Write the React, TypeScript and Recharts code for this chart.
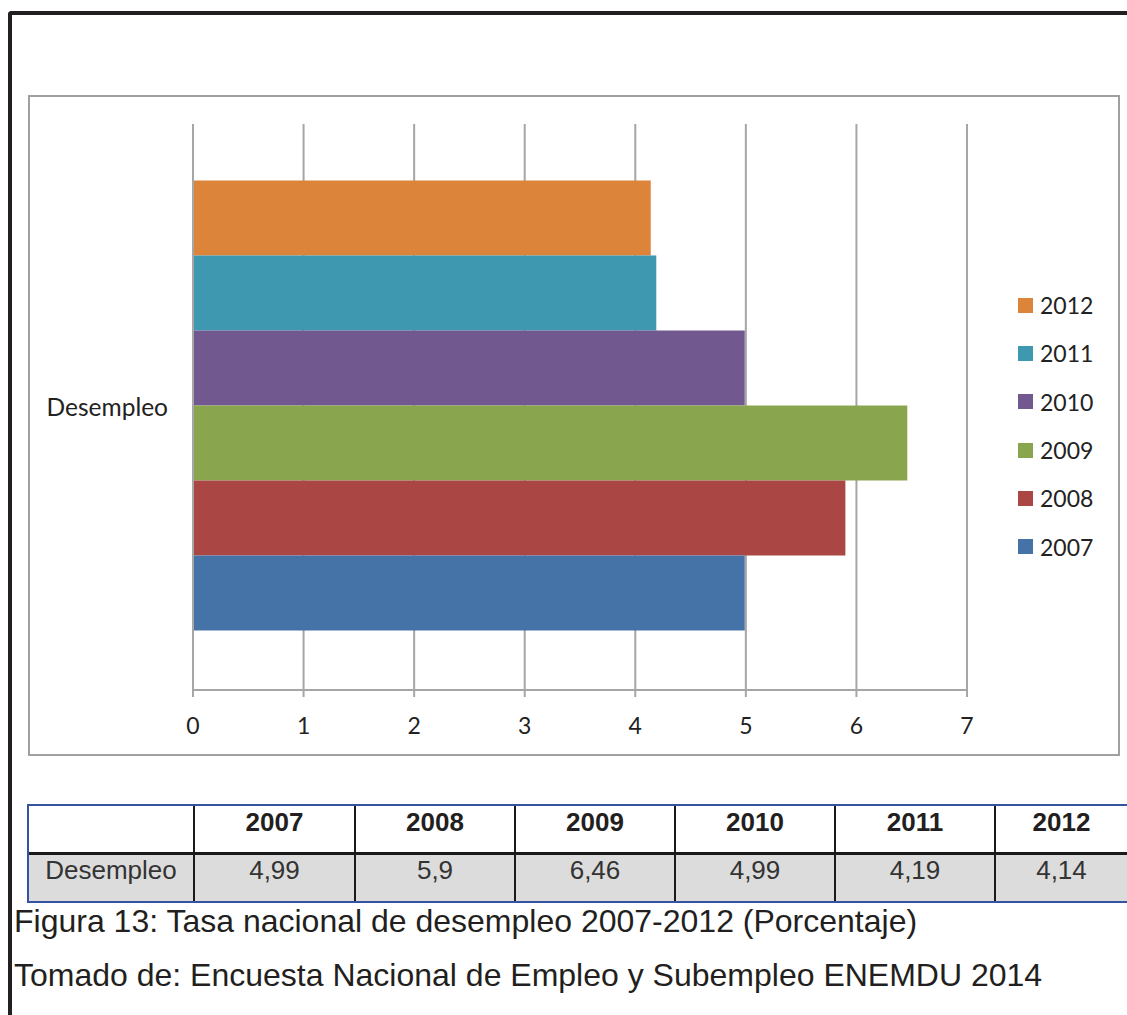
import { BarChart, Bar, XAxis, YAxis, CartesianGrid } from 'recharts'

const categories = ['Desempleo']
const years = ['2012', '2011', '2010', '2009', '2008', '2007']
const rates = [4.14, 4.19, 4.99, 6.46, 5.9, 4.99]
const colors = ['#DD843B', '#3E98B0', '#71588F', '#89A54E', '#AA4643', '#4572A7']
const xTicks = [0, 1, 2, 3, 4, 5, 6, 7]
const tableYears = ['2007', '2008', '2009', '2010', '2011', '2012']
const tableValues = ['4,99', '5,9', '6,46', '4,99', '4,19', '4,14']
const caption = 'Figura 13: Tasa nacional de desempleo 2007-2012 (Porcentaje)'
const source = 'Tomado de: Encuesta Nacional de Empleo y Subempleo ENEMDU 2014'

const data = categories.map((name) => {
  const row: { [key: string]: string | number } = { name }
  years.forEach((y, i) => {
    row[y] = rates[i]
  })
  return row
})

const gridGray = '#a6a6a6'
const chartFont = 'Lato, "Open Sans", sans-serif'
const tableFont = '"Liberation Sans", Arial, sans-serif'
const tableBlue = '#3553a0'
const colWidths = [164, 161, 160, 160, 160, 160, 133]

export default function App() {
  return (
    <div
      style={{
        position: 'absolute',
        left: 0,
        top: 0,
        width: 1127,
        height: 1015,
        overflow: 'hidden',
        background: '#fff',
      }}
    >
      {/* page frame */}
      <div
        style={{
          position: 'absolute',
          left: 8,
          top: 11,
          width: 1200,
          height: 1100,
          borderLeft: '4px solid #231f20',
          borderTop: '4px solid #231f20',
          borderTopLeftRadius: 4,
        }}
      />

      {/* chart box */}
      <div
        style={{
          position: 'absolute',
          left: 28,
          top: 95,
          width: 1092,
          height: 661,
          boxSizing: 'border-box',
          border: '2px solid #a0a0a0',
        }}
      >
        <BarChart
          width={1088}
          height={657}
          data={data}
          layout="vertical"
          barCategoryGap="10%"
          barGap={0}
          margin={{ top: 27, right: 151, left: 0, bottom: 24 }}
        >
          <CartesianGrid horizontal={false} stroke={gridGray} strokeWidth={2} />
          <XAxis
            type="number"
            domain={[0, 7]}
            ticks={xTicks}
            height={40}
            tickSize={7}
            tickMargin={21}
            axisLine={{ stroke: gridGray, strokeWidth: 2 }}
            tickLine={{ stroke: gridGray, strokeWidth: 2 }}
            tick={{ fill: '#222', fontSize: 23, fontFamily: chartFont }}
          />
          <YAxis
            type="category"
            dataKey="name"
            width={163}
            tickSize={8}
            tickMargin={17}
            tickLine={false}
            axisLine={{ stroke: gridGray, strokeWidth: 2 }}
            tick={{ fill: '#222', fontSize: 24.5, fontFamily: chartFont }}
          />
          {years.map((y, i) => (
            <Bar key={y} dataKey={y} fill={colors[i]} isAnimationActive={false} />
          ))}
        </BarChart>
      </div>

      {/* legend */}
      <div style={{ position: 'absolute', left: 1018, top: 281, fontFamily: chartFont, fontSize: 23, color: '#222' }}>
        {years.map((y, i) => (
          <div key={y} style={{ height: 48.3, display: 'flex', alignItems: 'center' }}>
            <span style={{ width: 15, height: 15, background: colors[i], display: 'inline-block', marginRight: 7 }} />
            <span>{y}</span>
          </div>
        ))}
      </div>

      {/* data table */}
      <div
        style={{
          position: 'absolute',
          left: 27,
          top: 804,
          width: 1140,
          borderTop: `2px solid ${tableBlue}`,
          borderBottom: `2px solid ${tableBlue}`,
          borderLeft: `2px solid ${tableBlue}`,
          fontFamily: tableFont,
          fontSize: 26,
          color: '#231f20',
        }}
      >
        <div style={{ display: 'flex', height: 46, borderBottom: '3px solid #1a1a1a' }}>
          {['', ...tableYears].map((y, i) => (
            <div
              key={i}
              style={{
                width: colWidths[i],
                boxSizing: 'border-box',
                borderLeft: i === 0 ? 'none' : '2px solid #1a1a1a',
                textAlign: 'center',
                lineHeight: '33px',
                fontWeight: 'bold',
              }}
            >
              {y}
            </div>
          ))}
        </div>
        <div style={{ display: 'flex', height: 46, background: '#dcdcdc' }}>
          {['Desempleo', ...tableValues].map((v, i) => (
            <div
              key={i}
              style={{
                width: colWidths[i],
                boxSizing: 'border-box',
                borderLeft: i === 0 ? 'none' : '2px solid #1a1a1a',
                textAlign: 'center',
                lineHeight: '31px',
                color: '#333',
              }}
            >
              {v}
            </div>
          ))}
        </div>
      </div>

      {/* caption */}
      <div style={{ position: 'absolute', left: 14, top: 902, fontFamily: tableFont, fontSize: 32, color: '#231f20', lineHeight: '38px', whiteSpace: 'nowrap' }}>
        {caption}
      </div>
      <div style={{ position: 'absolute', left: 14, top: 956, fontFamily: tableFont, fontSize: 32, color: '#231f20', lineHeight: '38px', whiteSpace: 'nowrap' }}>
        {source}
      </div>
    </div>
  )
}
